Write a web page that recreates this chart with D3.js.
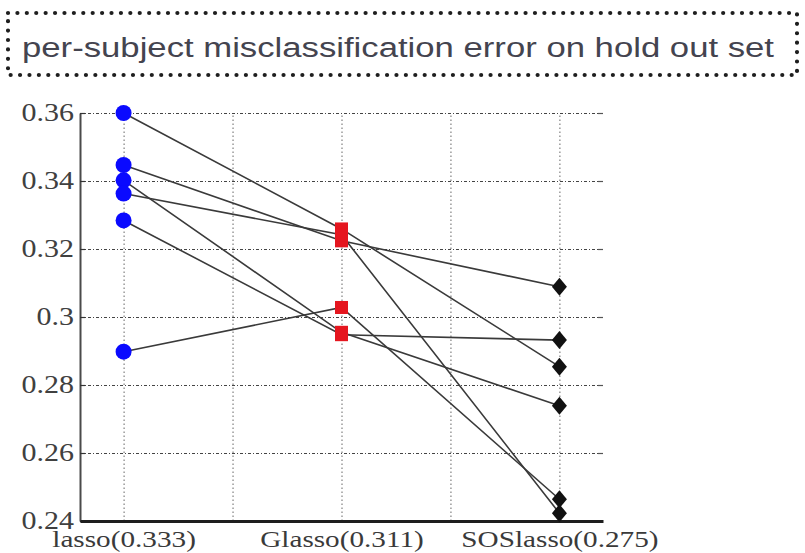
<!DOCTYPE html>
<html>
<head>
<meta charset="utf-8">
<script src="https://cdn.jsdelivr.net/npm/d3@7"></script>
<style>
  html, body { margin: 0; padding: 0; background: #fff; }
  svg { display: block; }
</style>
</head>
<body>
<svg id="chart" width="805" height="553"></svg>
<script>
// ---- data ----
const titleText = "per-subject misclassification error on hold out set";
const categories = ["lasso(0.333)", "Glasso(0.311)", "SOSlasso(0.275)"];
const lassoErr    = [0.3600, 0.3447, 0.3402, 0.3363, 0.3284, 0.2898];
const glassoErr   = [0.3259, 0.3224, 0.2955, 0.3242, 0.2948, 0.3028];
const soslassoErr = [0.2854, 0.3089, 0.2739, 0.2423, 0.2932, 0.2464];
const yTicks = [0.24, 0.26, 0.28, 0.30, 0.32, 0.34, 0.36];
const yTickLabels = ["0.24", "0.26", "0.28", "0.3", "0.32", "0.34", "0.36"];
const xTicks = [1, 1.5, 2, 2.5, 3];

(function() {
// ---- layout ----
const svg = d3.select("#chart");
const pL = 80, pR = 603, pT = 113, pB = 521;
const x = d3.scaleLinear().domain([0.8, 3.2]).range([pL, pR]);
const y = d3.scaleLinear().domain([0.24, 0.36]).range([pB, pT]);

// title box
svg.append("rect")
  .attr("x", 8).attr("y", 13).attr("width", 789).attr("height", 62)
  .attr("fill", "none").attr("stroke", "#1e1e1e").attr("stroke-width", 4.2)
  .attr("stroke-linecap", "round").attr("stroke-dasharray", "0.01 9.4");
svg.append("text")
  .attr("x", 22).attr("y", 57)
  .attr("font-family", "'Liberation Sans', Arial, sans-serif")
  .attr("font-size", 27).attr("fill", "#44444f")
  .attr("textLength", 752).attr("lengthAdjust", "spacingAndGlyphs")
  .text(titleText);

// grid
const gy = svg.append("g").attr("transform", `translate(${pL},0)`)
  .call(d3.axisLeft(y).tickValues(yTicks.slice(1)).tickSize(-(pR - pL)).tickFormat(""));
gy.select(".domain").remove();
gy.selectAll("line").attr("stroke", "#444").attr("stroke-width", 1.2).attr("stroke-dasharray", "3,2,1,2");

const gx = svg.append("g").attr("transform", `translate(0,${pB})`)
  .call(d3.axisBottom(x).tickValues(xTicks).tickSize(-(pB - pT)).tickFormat(""));
gx.select(".domain").remove();
gx.selectAll("line").attr("stroke", "#666").attr("stroke-width", 1).attr("stroke-dasharray", "1.5,2.5");

// subject lines
const line = d3.line().x(d => x(d[0])).y(d => y(d[1]));
const subjects = lassoErr.map((v, i) => [[1, v], [2, glassoErr[i]], [3, soslassoErr[i]]]);
svg.append("g").selectAll("path").data(subjects).join("path")
  .attr("d", line).attr("fill", "none")
  .attr("stroke", "#3a3a3a").attr("stroke-width", 1.6);

// axes
const yAxis = svg.append("g").attr("transform", `translate(${pL},0)`)
  .call(d3.axisLeft(y).tickValues(yTicks).tickSizeInner(-5).tickSizeOuter(0).tickPadding(6)
    .tickFormat((d, i) => yTickLabels[i]));
yAxis.select(".domain").attr("stroke", "#4a4a4a").attr("stroke-width", 2);
yAxis.selectAll("line").attr("stroke", "#333").attr("stroke-width", 1.2);
yAxis.selectAll("text")
  .attr("font-family", "'Liberation Serif', 'Times New Roman', serif")
  .attr("font-size", 25).attr("fill", "#404040")
  .attr("dy", "0.3em");

const rAxis = svg.append("g").attr("transform", `translate(${pR},0)`)
  .call(d3.axisRight(y).tickValues(yTicks).tickSizeInner(-5).tickSizeOuter(0).tickFormat(""));
rAxis.select(".domain").remove();
rAxis.selectAll("line").attr("stroke", "#555").attr("stroke-width", 1.2);

const xAxis = svg.append("g").attr("transform", `translate(0,${pB})`)
  .call(d3.axisBottom(x).tickValues(xTicks).tickSizeInner(0).tickSizeOuter(0)
    .tickFormat(d => Number.isInteger(d) ? categories[d - 1] : ""));
xAxis.select(".domain").attr("stroke", "#1e1e1e").attr("stroke-width", 3);
xAxis.selectAll("text")
  .attr("y", 26).attr("dy", null)
  .attr("font-family", "'Liberation Serif', 'Times New Roman', serif")
  .attr("font-size", 23).attr("fill", "#3a3a3a");

yAxis.selectAll(".tick text").each(function() {
  const w = this.getComputedTextLength();
  if (w > 0) d3.select(this).attr("textLength", w * 1.2).attr("lengthAdjust", "spacingAndGlyphs");
});
xAxis.selectAll(".tick text").each(function() {
  const w = this.getComputedTextLength();
  if (w > 0) d3.select(this).attr("textLength", w * 1.27).attr("lengthAdjust", "spacingAndGlyphs");
});

// markers
svg.append("g").selectAll("circle").data(lassoErr).join("circle")
  .attr("cx", x(1)).attr("cy", d => y(d)).attr("r", 8).attr("fill", "#0a0aff");
svg.append("g").selectAll("rect").data(glassoErr).join("rect")
  .attr("x", x(2) - 6.5).attr("y", d => y(d) - 6.5).attr("width", 13).attr("height", 13)
  .attr("fill", "#e5161f");
svg.append("g").selectAll("path").data(soslassoErr).join("path")
  .attr("transform", d => `translate(${x(3)},${y(d)})`)
  .attr("d", "M0,-9L7.5,0L0,9L-7.5,0Z").attr("fill", "#111");
})();
</script>
</body>
</html>
